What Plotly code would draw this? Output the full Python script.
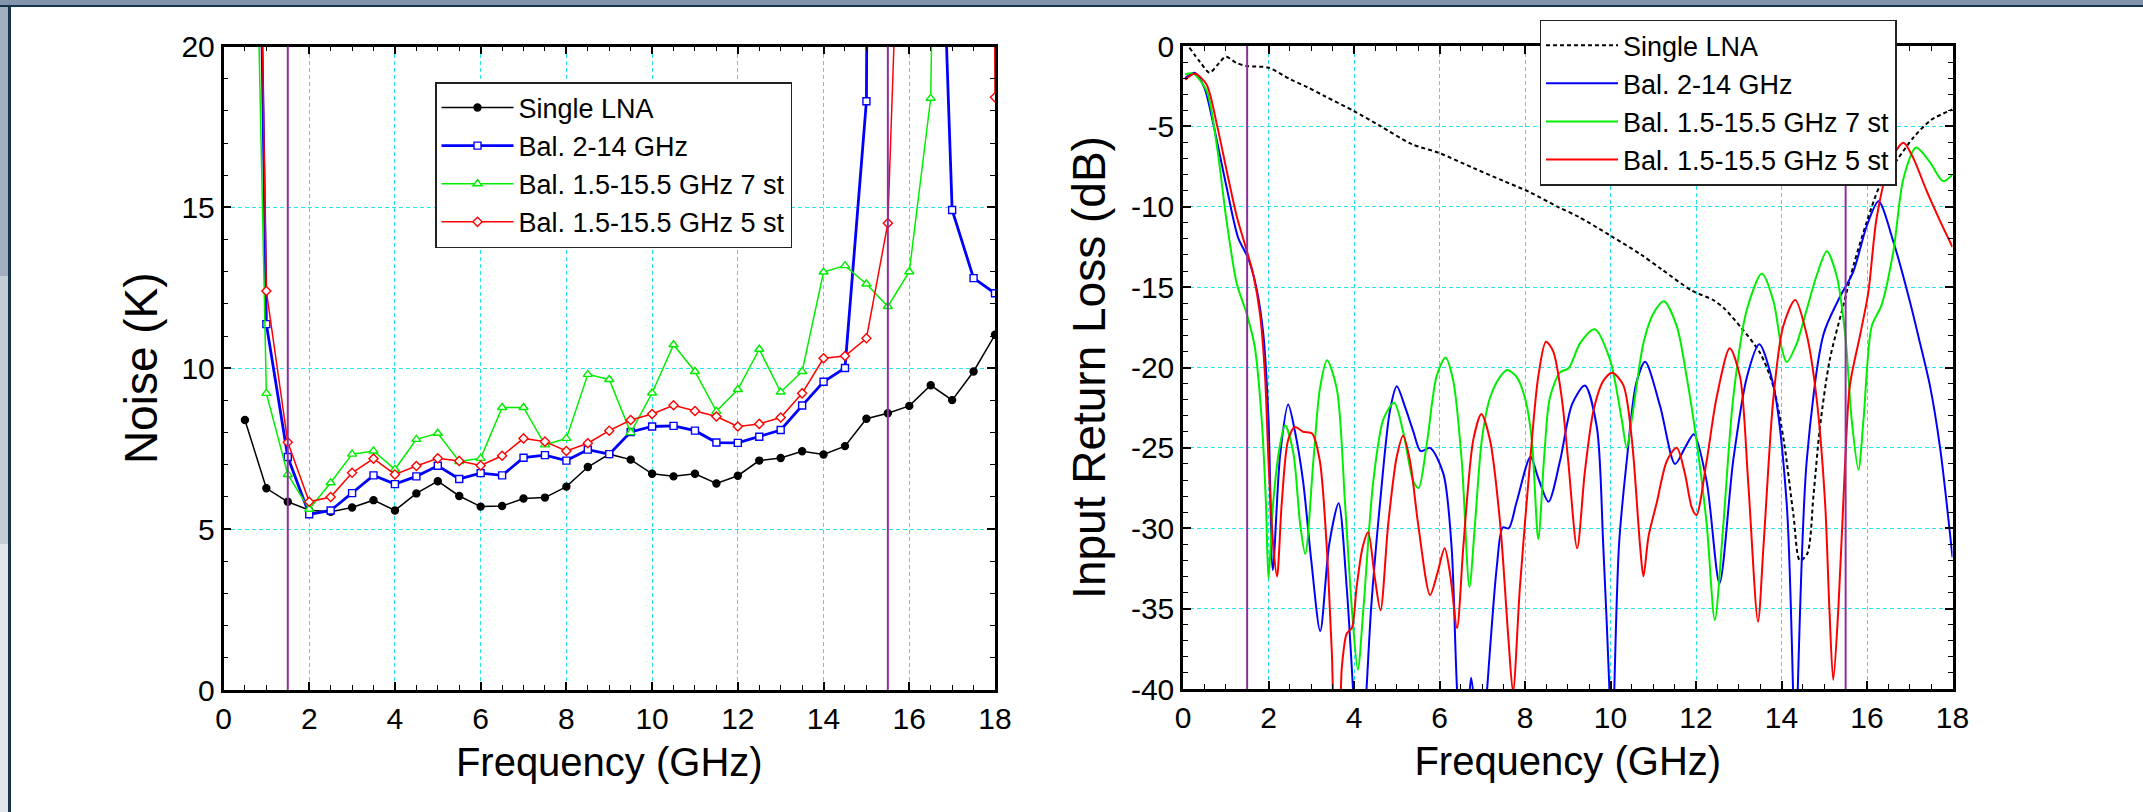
import plotly.graph_objects as go

W, H = 2143, 812

# ---------------- data : left panel (noise temperature, K) ----------------
noise_freq = [0.5, 1.0, 1.5, 2.0, 2.5, 3.0, 3.5, 4.0, 4.5, 5.0, 5.5, 6.0,
              6.5, 7.0, 7.5, 8.0, 8.5, 9.0, 9.5, 10.0, 10.5, 11.0, 11.5, 12.0,
              12.5, 13.0, 13.5, 14.0, 14.5, 15.0, 15.5, 16.0, 16.5, 17.0, 17.5, 18.0]
noise_single = [8.39, 6.27, 5.85, 5.59, 5.54, 5.67, 5.90, 5.58, 6.11, 6.49, 6.03, 5.70,
                5.72, 5.95, 5.98, 6.32, 6.93, 7.33, 7.16, 6.72, 6.64, 6.72, 6.42, 6.66,
                7.13, 7.21, 7.42, 7.32, 7.58, 8.43, 8.60, 8.83, 9.47, 9.01, 9.90, 11.04]
noise_bal_2_14 = [54.5, 11.37, 7.24, 5.46, 5.58, 6.12, 6.67, 6.40, 6.64, 6.97, 6.56, 6.74,
                  6.67, 7.22, 7.30, 7.13, 7.47, 7.33, 8.02, 8.19, 8.21, 8.06, 7.69, 7.68,
                  7.87, 8.08, 8.84, 9.58, 10.01, 18.30, 140.0, 150.0, 34.4, 14.92, 12.80, 12.33]
noise_bal_7st = [40.9, 9.22, 6.70, 5.62, 6.44, 7.33, 7.43, 6.86, 7.79, 7.98, 7.10, 7.20,
                 8.78, 8.78, 7.62, 7.82, 9.81, 9.65, 8.00, 9.23, 10.73, 9.90, 8.66, 9.34,
                 10.59, 9.26, 9.90, 12.99, 13.19, 12.62, 11.92, 13.00, 18.39, 150.0, 150.0, 150.0]
noise_bal_5st = [54.6, 12.40, 7.70, 5.85, 6.00, 6.75, 7.19, 6.70, 6.96, 7.20, 7.12, 6.98,
                 7.28, 7.82, 7.72, 7.43, 7.67, 8.06, 8.39, 8.58, 8.85, 8.67, 8.50, 8.19,
                 8.27, 8.47, 9.22, 10.31, 10.38, 10.93, 14.51, 34.0, 80.0, 120.0, 160.0, 18.42]

# ---------------- data : right panel (input return loss, dB) ----------------
rl_single_freq = [0.15, 0.4, 0.62, 0.8, 1.0, 1.25, 1.5, 2.0, 2.5, 2.9, 3.3, 4.0, 4.6, 5.35,
                  6.0, 6.8, 7.5, 8.1, 8.8, 9.25, 10.0, 10.7, 11.2, 11.9, 12.4, 12.65, 13.05,
                  13.5, 13.8, 14.05, 14.28, 14.43, 14.6, 14.75, 14.9, 15.13, 15.45, 15.7,
                  16.0, 16.3, 16.7, 17.1, 17.5, 18.0]
rl_single_db = [-0.1, -1.0, -1.66, -1.2, -0.67, -1.05, -1.25, -1.35, -2.06, -2.55, -3.1, -4.05,
                -4.95, -6.1, -6.66, -7.6, -8.4, -9.08, -10.05, -10.62, -11.8, -12.95, -13.9,
                -15.21, -15.8, -16.3, -17.5, -19.1, -21.1, -24.5, -29.2, -32.0, -31.6, -27.9,
                -23.7, -19.5, -16.1, -13.5, -10.9, -8.7, -7.1, -5.65, -4.6, -3.95]

rl_bal214_freq = [0.05, 0.28, 0.5, 0.71, 1.02, 1.29, 1.53, 1.72, 1.88, 2.0, 2.1, 2.27, 2.46,
                  2.62, 2.81, 3.0, 3.21, 3.42, 3.64, 3.83, 4.0, 4.12, 4.27, 4.4, 4.61, 4.84,
                  5.0, 5.2, 5.39, 5.56, 5.78, 6.09, 6.28, 6.42, 6.55, 6.68, 6.74, 6.82, 6.95,
                  7.1, 7.34, 7.48, 7.62, 7.8, 8.13, 8.3, 8.55, 8.82, 9.1, 9.4, 9.68, 9.83,
                  9.99, 10.04, 10.08, 10.2, 10.38, 10.6, 10.81, 11.16, 11.51, 11.74, 11.95,
                  12.25, 12.55, 12.87, 13.19, 13.48, 13.81, 14.12, 14.28, 14.33, 14.37, 14.59,
                  14.98, 15.33, 15.68, 16.0, 16.27, 16.62, 17.0, 17.24, 17.47, 17.71, 18.0]
rl_bal214_db = [-2.0, -1.67, -2.6, -4.86, -8.79, -11.93, -13.24, -15.08, -17.96, -23.2, -32.6,
                -25.5, -22.3, -24.0, -27.1, -32.0, -36.4, -31.0, -28.45, -33.7, -41.0, -46.0,
                -41.0, -35.0, -28.4, -22.7, -21.17, -22.5, -24.0, -25.2, -25.0, -26.6, -31.05,
                -40.5, -44.0, -41.0, -39.3, -41.0, -46.0, -40.5, -32.4, -29.95, -30.0, -28.4,
                -25.55, -26.8, -28.35, -25.8, -22.3, -21.12, -23.7, -31.05, -41.0, -46.0, -41.0,
                -31.0, -25.8, -21.0, -19.65, -22.4, -26.0, -25.0, -24.15, -27.1, -33.43, -25.8,
                -20.6, -18.56, -21.1, -28.4, -41.0, -46.0, -41.0, -25.8, -17.96, -15.8, -14.03,
                -11.15, -9.66, -12.2, -15.86, -18.48, -21.1, -25.0, -31.8]

rl_bal7_freq = [0.05, 0.24, 0.55, 0.79, 1.02, 1.26, 1.49, 1.68, 1.84, 1.94, 2.0, 2.11, 2.27,
                2.39, 2.58, 2.74, 2.86, 3.05, 3.2, 3.37, 3.6, 3.79, 3.95, 4.09, 4.22, 4.45,
                4.69, 4.94, 5.15, 5.39, 5.51, 5.7, 5.93, 6.14, 6.32, 6.52, 6.7, 6.83, 6.99,
                7.18, 7.42, 7.58, 7.8, 8.0, 8.16, 8.31, 8.45, 8.58, 8.82, 9.02, 9.29, 9.63,
                9.99, 10.26, 10.38, 10.5, 10.77, 11.0, 11.25, 11.55, 11.78, 12.01, 12.25,
                12.44, 12.64, 12.87, 13.19, 13.54, 13.81, 14.0, 14.12, 14.36, 14.59, 14.82,
                15.06, 15.29, 15.49, 15.64, 15.8, 15.92, 16.11, 16.34, 16.62, 16.85, 17.15,
                17.47, 17.78, 18.0]
rl_bal7_db = [-1.77, -1.72, -2.77, -6.17, -10.89, -14.81, -16.65, -18.74, -23.2, -28.43, -33.14,
              -28.4, -24.8, -23.6, -25.3, -29.74, -31.6, -25.8, -21.36, -19.55, -21.36, -28.43,
              -35.0, -38.8, -35.0, -27.1, -23.2, -22.2, -24.0, -27.1, -27.5, -24.8, -20.57,
              -19.38, -20.8, -25.8, -33.65, -29.74, -24.5, -21.9, -20.57, -20.15, -20.57, -21.9,
              -24.5, -30.67, -25.5, -21.9, -20.3, -20.05, -18.48, -17.62, -19.53, -23.2, -25.0,
              -23.2, -18.48, -16.65, -15.88, -17.43, -20.57, -24.5, -29.74, -35.7, -29.74,
              -21.9, -16.39, -14.16, -15.86, -18.74, -19.66, -18.48, -16.39, -14.29, -12.77,
              -14.29, -17.96, -23.2, -26.36, -23.2, -17.43, -16.12, -12.72, -8.27, -6.32,
              -7.22, -8.41, -8.0]

rl_bal5_freq = [0.05, 0.28, 0.55, 0.79, 1.02, 1.26, 1.49, 1.65, 1.8, 1.92, 2.0, 2.11, 2.2,
                2.31, 2.46, 2.62, 2.81, 3.02, 3.2, 3.36, 3.48, 3.57, 3.63, 3.72, 3.83, 3.95,
                4.06, 4.2, 4.33, 4.49, 4.62, 4.8, 5.0, 5.15, 5.31, 5.5, 5.78, 5.95, 6.12,
                6.25, 6.41, 6.56, 6.79, 6.98, 7.18, 7.42, 7.61, 7.72, 7.88, 8.12, 8.31, 8.49,
                8.66, 8.86, 9.01, 9.22, 9.4, 9.6, 9.83, 10.04, 10.3, 10.5, 10.69, 10.77,
                10.89, 11.08, 11.32, 11.55, 11.74, 11.9, 12.01, 12.25, 12.48, 12.79, 13.03,
                13.22, 13.45, 13.58, 13.81, 14.04, 14.32, 14.59, 14.82, 15.02, 15.12, 15.21,
                15.33, 15.49, 15.6, 15.84, 16.03, 16.23, 16.54, 16.85, 17.08, 17.4, 17.71, 18.0]
rl_bal5_db = [-2.1, -1.72, -2.4, -4.86, -7.74, -10.62, -12.72, -14.29, -16.65, -20.57, -25.8,
              -31.05, -33.0, -28.43, -24.5, -23.7, -24.0, -24.1, -25.8, -31.05, -37.6, -42.0,
              -42.0, -38.5, -36.55, -36.2, -33.7, -31.2, -30.25, -33.14, -35.1, -29.74, -25.55,
              -24.25, -25.8, -29.74, -34.15, -32.8, -31.25, -32.88, -36.2, -31.05, -24.5,
              -22.89, -24.5, -29.74, -36.8, -40.2, -33.7, -25.8, -20.57, -18.4, -19.0, -21.9,
              -25.8, -31.25, -26.5, -22.7, -20.84, -20.32, -21.1, -24.5, -31.05, -33.0, -30.5,
              -28.43, -25.8, -24.99, -26.6, -28.7, -29.18, -25.8, -21.9, -18.81, -20.57, -27.1,
              -35.81, -31.05, -21.9, -17.43, -15.8, -17.96, -21.9, -28.43, -35.0, -39.44, -35.0,
              -25.8, -21.1, -17.96, -15.34, -10.62, -7.22, -6.02, -6.96, -9.05, -10.89, -12.5]

series_names = ["Single LNA", "Bal. 2-14 GHz", "Bal. 1.5-15.5 GHz 7 st", "Bal. 1.5-15.5 GHz 5 st"]
band_edges = [1.5, 15.5]

freq_ticks = [0, 2, 4, 6, 8, 10, 12, 14, 16, 18]
noise_ticks = [0, 5, 10, 15, 20]
rl_ticks = [0, -5, -10, -15, -20, -25, -30, -35, -40]
rl_tick_text = ["0", "-5", "-10", "-15", "-20", "-25", "-30", "-35", "-40"]

# ---------------- styling ----------------
FONT = "Liberation Sans, Arial, sans-serif"
GRID = "#27E3EE"
colors = ["black", "#0000FF", "#00EE00", "#FF0000"]

fig = go.Figure()

# left panel traces
noise_series = [noise_single, noise_bal_2_14, noise_bal_7st, noise_bal_5st]
symbols = ["circle", "square", "triangle-up", "diamond"]
msizes = [7, 7, 8, 7]
lwidths = [1.5, 2.8, 1.5, 1.5]
for i, (name, vals, col, sym, ms, lw) in enumerate(
        zip(series_names, noise_series, colors, symbols, msizes, lwidths)):
    fill = col if sym == "circle" else "white"
    fig.add_trace(go.Scatter(
        x=noise_freq, y=vals, name=name, mode="lines+markers",
        line=dict(color=col, width=lw),
        marker=dict(symbol=sym, size=ms, color=fill, line=dict(color=col, width=1.4)),
        xaxis="x", yaxis="y", legend="legend"))

# right panel traces
rl_series = [(rl_single_freq, rl_single_db), (rl_bal214_freq, rl_bal214_db),
             (rl_bal7_freq, rl_bal7_db), (rl_bal5_freq, rl_bal5_db)]
for i, (name, (fx, fy), col) in enumerate(zip(series_names, rl_series, colors)):
    fig.add_trace(go.Scatter(
        x=fx, y=fy, name=name, mode="lines",
        line=dict(color=col, width=2, shape="spline", smoothing=0.8,
                  dash="4px,3px" if i == 0 else "solid"),
        xaxis="x2", yaxis="y2", legend="legend2"))

# domains from pixel layout
def px_x(a, b):
    return [a / W, b / W]

def px_y(top, bottom):
    return [1 - bottom / H, 1 - top / H]

axis_common = dict(
    showline=True, linecolor="black", linewidth=2.5, mirror="allticks",
    ticks="inside", ticklen=8, tickwidth=1.5, tickcolor="black",
    showgrid=True, gridcolor=GRID, gridwidth=1.2, griddash="4px,3px",
    zeroline=False, automargin=False,
    tickfont=dict(family=FONT, size=30, color="black"),
)
minor_x = dict(dtick=0.5, tick0=0, ticks="inside", ticklen=5, tickwidth=1.2,
               tickcolor="black", showgrid=False)
minor_y = dict(dtick=1, tick0=0, ticks="inside", ticklen=5, tickwidth=1.2,
               tickcolor="black", showgrid=False)

legend_common = dict(xanchor="left", yanchor="top", bgcolor="white",
                     bordercolor="#222222", borderwidth=1.5,
                     font=dict(family=FONT, size=27, color="black"),
                     itemwidth=72, tracegroupgap=0, traceorder="normal")

fig.update_layout(
    width=W, height=H,
    margin=dict(l=0, r=0, t=0, b=0),
    paper_bgcolor="white", plot_bgcolor="white",
    xaxis=dict(axis_common, domain=px_x(223.5, 995), range=[0, 18], tickvals=freq_ticks,
               minor=minor_x,
               title=dict(text="Frequency (GHz)", font=dict(family=FONT, size=40, color="black"),
                          standoff=15),
               anchor="y"),
    yaxis=dict(axis_common, domain=px_y(46.5, 690), range=[0, 20], tickvals=noise_ticks,
               minor=minor_y,
               title=dict(text="Noise (K)", font=dict(family=FONT, size=46, color="black"),
                          standoff=10),
               anchor="x"),
    xaxis2=dict(axis_common, domain=px_x(1183, 1952.5), range=[0, 18], tickvals=freq_ticks,
                minor=minor_x,
                title=dict(text="Frequency (GHz)", font=dict(family=FONT, size=40, color="black"),
                           standoff=15),
                anchor="y2"),
    yaxis2=dict(axis_common, domain=px_y(46, 689), range=[-40, 0], tickvals=rl_ticks,
                ticktext=rl_tick_text, minor=minor_y,
                title=dict(text="Input Return Loss (dB)", font=dict(family=FONT, size=46, color="black"),
                           standoff=11),
                anchor="x2"),
    legend=dict(legend_common, x=435 / W, y=1 - 82 / H),
    legend2=dict(legend_common, x=1539.5 / W, y=1 - 19.7 / H),
)

# band-edge markers (purple verticals) on both panels
for xref, yref in (("x", "y domain"), ("x2", "y2 domain")):
    for edge in band_edges:
        fig.add_shape(type="line", xref=xref, yref=yref, x0=edge, x1=edge, y0=0, y1=1,
                      line=dict(color="#8E2F9E", width=2), layer="above")

# slide frame: top bar and left strip
frame = [
    dict(x0=0, x1=1, y0=1 - 5 / H, y1=1, fillcolor="#8295AD"),
    dict(x0=0, x1=1, y0=1 - 7 / H, y1=1 - 5 / H, fillcolor="#17344F"),
    dict(x0=0, x1=8 / W, y0=0.66, y1=1 - 7 / H, fillcolor="#A3AFBE"),
    dict(x0=0, x1=8 / W, y0=0.33, y1=0.66, fillcolor="#C4CCD6"),
    dict(x0=0, x1=8 / W, y0=0, y1=0.33, fillcolor="#E2E6EB"),
    dict(x0=8 / W, x1=11 / W, y0=0, y1=1 - 5 / H, fillcolor="#17344F"),
]
for f in frame:
    fig.add_shape(type="rect", xref="paper", yref="paper", line=dict(width=0), layer="below", **f)

fig.write_html("out.html",
               config={"displayModeBar": False},
               post_script="document.body.style.margin='0px';document.body.style.overflow='hidden';")
